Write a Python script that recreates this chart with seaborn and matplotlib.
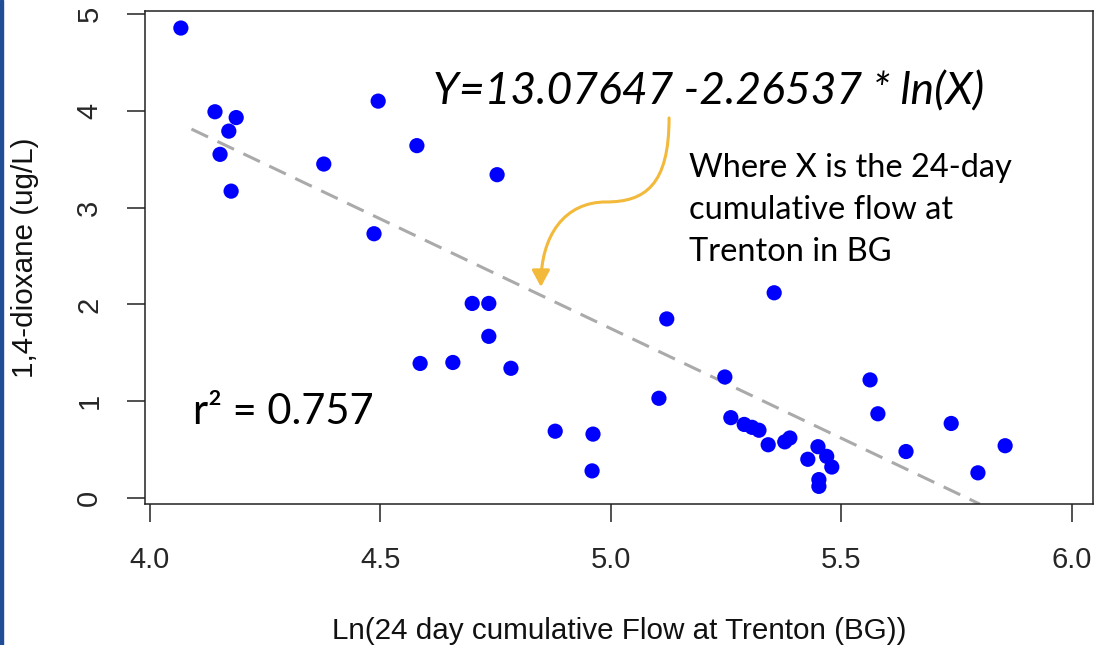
import numpy as np
import pandas as pd
import matplotlib
matplotlib.use("Agg")
import matplotlib.pyplot as plt
import seaborn as sns
from matplotlib.path import Path
from matplotlib.patches import FancyArrowPatch, Rectangle

# ---- data ----
ln_flow = [4.067, 4.141, 4.187, 4.171, 4.152, 4.176, 4.377, 4.495, 4.486, 4.579,
           4.753, 4.699, 4.735, 4.735, 4.586, 4.657, 4.783, 4.879, 4.961, 4.959,
           5.104, 5.121, 5.247, 5.260, 5.289, 5.306, 5.321, 5.341, 5.377, 5.388,
           5.354, 5.427, 5.449, 5.468, 5.479, 5.451, 5.451, 5.562, 5.579, 5.640,
           5.738, 5.796, 5.855]
dioxane = [4.855, 3.99, 3.93, 3.79, 3.55, 3.17, 3.45, 4.10, 2.73, 3.64,
           3.34, 2.01, 2.01, 1.67, 1.39, 1.40, 1.34, 0.69, 0.66, 0.28,
           1.03, 1.85, 1.25, 0.83, 0.76, 0.73, 0.70, 0.55, 0.58, 0.62,
           2.12, 0.40, 0.53, 0.43, 0.32, 0.19, 0.12, 1.22, 0.87, 0.48,
           0.77, 0.26, 0.54]
intercept = 13.07647
slope = -2.26537
fit_x_range = [4.09, 5.80]
x_ticks = [4.0, 4.5, 5.0, 5.5, 6.0]
x_tick_labels = ["4.0", "4.5", "5.0", "5.5", "6.0"]
y_ticks = [0, 1, 2, 3, 4, 5]
y_tick_labels = ["0", "1", "2", "3", "4", "5"]

df = pd.DataFrame({"x": ln_flow, "y": dioxane})
fit_x = np.array(fit_x_range)
fit_df = pd.DataFrame({"x": fit_x, "y": intercept + slope * fit_x})

sns.set_style("white")
plt.rcParams['font.family'] = ['Liberation Sans', 'DejaVu Sans']

fig = plt.figure(figsize=(10.99, 6.45), dpi=100)
ax = fig.add_axes([145/1099, 1 - 504/645, (1093-145)/1099, (504-11)/645])

sns.lineplot(data=fit_df, x="x", y="y", ax=ax, color="#aaaaaa", lw=2.2,
             dashes=False, legend=False)
ln = ax.get_lines()[-1]
ln.set_dashes((6.0, 3.4))
ln.set_dash_capstyle("butt")

sns.scatterplot(data=df, x="x", y="y", ax=ax, color="#0000ff", s=120,
                edgecolor="none", linewidth=0, zorder=3, legend=False)

ax.set_xlim(3.9892, 6.0456)
ax.set_ylim(-0.062, 5.031)
ax.set_xticks(x_ticks)
ax.set_xticklabels(x_tick_labels)
ax.set_yticks(y_ticks)
ax.set_yticklabels(y_tick_labels, rotation=90, va="center")
ax.tick_params(axis="both", direction="out", length=13, width=1.1,
               color="#222222", labelsize=21, pad=17, left=True, bottom=True)
for s in ax.spines.values():
    s.set_color("#222222")
    s.set_linewidth(1.1)
ax.set_xlabel("Ln(24 day cumulative Flow at Trenton (BG))", fontsize=21.3,
              labelpad=31, color="#111111")
ax.set_ylabel("1,4-dioxane (ug/L)", fontsize=21.3, labelpad=26, color="#111111")
ax.grid(False)

# annotations
fig.text(433/1099, 1 - 104/645, "Y=13.07647 -2.26537 * ln(X)",
         fontsize=32, style="italic", family=["Lato", "DejaVu Sans"],
         va="baseline", ha="left", color="black")
fig.text(689/1099, 1 - 153/645,
         "Where X is the 24-day\ncumulative flow at\nTrenton in BG",
         fontsize=23.5, family=["Lato", "DejaVu Sans"], va="top", ha="left",
         linespacing=1.5, color="black")
fig.text(193/1099, 1 - 424/645, "r\u00b2 = 0.757", fontsize=30,
         family=["Lato", "DejaVu Sans"], va="baseline", ha="left", color="black")

verts = [(5.126, 3.926), (5.126, 3.233), (5.074, 3.058), (4.989, 3.058),
         (4.900, 3.058), (4.848, 2.717), (4.848, 2.180)]
codes = [Path.MOVETO, Path.CURVE4, Path.CURVE4, Path.CURVE4,
         Path.CURVE4, Path.CURVE4, Path.CURVE4]
arrow = FancyArrowPatch(path=Path(verts, codes),
                        arrowstyle="-|>,head_length=1.0,head_width=0.54",
                        mutation_scale=10, color="#f2b93b", lw=2.2,
                        transform=ax.transData, zorder=4)
ax.add_patch(arrow)

# left slide border strip
fig.patches.append(Rectangle((0, 0), 3/1099, 1, transform=fig.transFigure,
                             color="#1f4e96", zorder=10))

fig.savefig("out.png", dpi=100)
